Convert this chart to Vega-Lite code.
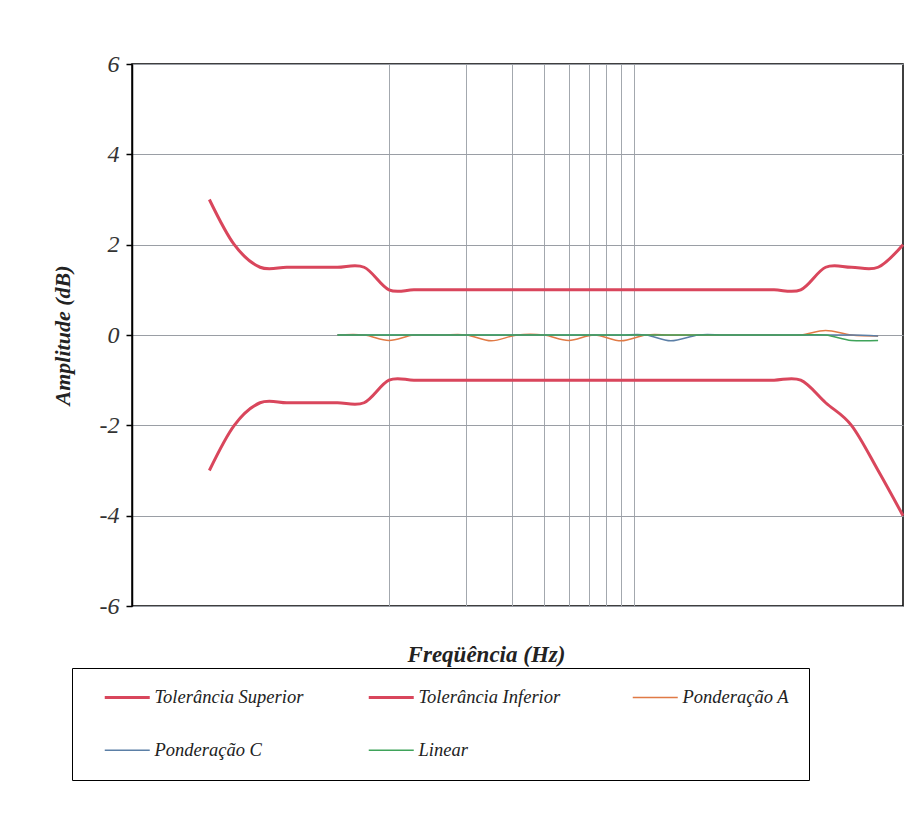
{
  "$schema": "https://vega.github.io/schema/vega-lite/v6.json",
  "width": 771,
  "height": 542,
  "autosize": {"type": "none"},
  "padding": {"left": 132, "top": 64, "right": 19, "bottom": 208},
  "background": "white",
  "config": {
    "view": {"stroke": "black", "strokeWidth": 1.5},
    "font": "Liberation Serif"
  },
  "data": {
    "values": [
      {"f": 20, "sup": 3, "inf": -3},
      {"f": 25, "sup": 2, "inf": -2},
      {"f": 31.5, "sup": 1.5, "inf": -1.5},
      {"f": 40, "sup": 1.5, "inf": -1.5},
      {"f": 50, "sup": 1.5, "inf": -1.5},
      {"f": 63, "sup": 1.5, "inf": -1.5, "pa": 0, "pc": 0, "lin": 0},
      {"f": 80, "sup": 1.5, "inf": -1.5, "pa": 0, "pc": 0, "lin": 0},
      {"f": 100, "sup": 1, "inf": -1, "pa": -0.12, "pc": 0, "lin": 0},
      {"f": 125, "sup": 1, "inf": -1, "pa": 0, "pc": 0, "lin": 0},
      {"f": 160, "sup": 1, "inf": -1, "pa": 0, "pc": 0, "lin": 0},
      {"f": 200, "sup": 1, "inf": -1, "pa": 0, "pc": 0, "lin": 0},
      {"f": 250, "sup": 1, "inf": -1, "pa": -0.13, "pc": 0, "lin": 0},
      {"f": 315, "sup": 1, "inf": -1, "pa": 0, "pc": 0, "lin": 0},
      {"f": 400, "sup": 1, "inf": -1, "pa": 0, "pc": 0, "lin": 0},
      {"f": 500, "sup": 1, "inf": -1, "pa": -0.12, "pc": 0, "lin": 0},
      {"f": 630, "sup": 1, "inf": -1, "pa": 0, "pc": 0, "lin": 0},
      {"f": 800, "sup": 1, "inf": -1, "pa": -0.13, "pc": 0, "lin": 0},
      {"f": 1000, "sup": 1, "inf": -1, "pa": 0, "pc": 0, "lin": 0},
      {"f": 1250, "sup": 1, "inf": -1, "pa": 0, "pc": -0.13, "lin": 0},
      {"f": 1600, "sup": 1, "inf": -1, "pa": 0, "pc": 0, "lin": 0},
      {"f": 2000, "sup": 1, "inf": -1, "pa": 0, "pc": 0, "lin": 0},
      {"f": 2500, "sup": 1, "inf": -1, "pa": 0, "pc": 0, "lin": 0},
      {"f": 3150, "sup": 1, "inf": -1, "pa": 0, "pc": 0, "lin": 0},
      {"f": 4000, "sup": 1, "inf": -1, "pa": 0, "pc": 0, "lin": 0},
      {"f": 5000, "sup": 1.5, "inf": -1.5, "pa": 0.1, "pc": 0, "lin": 0},
      {"f": 6300, "sup": 1.5, "inf": -2, "pa": 0, "pc": 0, "lin": -0.12},
      {"f": 8000, "sup": 1.5, "inf": -3, "pa": -0.02, "pc": -0.02, "lin": -0.12},
      {"f": 10000, "sup": 2, "inf": -4}
    ]
  },
  "transform": [
    {"fold": ["sup", "inf", "pa", "pc", "lin"], "as": ["key", "v"]},
    {"filter": "isValid(datum.v)"},
    {"lookup": "key", "from": {"data": {"values": [
      {"key": "sup", "series": "Tolerância Superior", "tol": 1},
      {"key": "inf", "series": "Tolerância Inferior", "tol": 1},
      {"key": "pa", "series": "Ponderação A", "tol": 0},
      {"key": "pc", "series": "Ponderação C", "tol": 0},
      {"key": "lin", "series": "Linear", "tol": 0}
    ]}, "key": "key", "fields": ["series", "tol"]}}
  ],
  "encoding": {
    "x": {
      "field": "f", "type": "quantitative",
      "scale": {"type": "log", "domain": [10, 10000], "nice": false},
      "axis": {
        "values": [100, 200, 300, 400, 500, 600, 700, 800, 900],
        "labels": false, "ticks": false, "domain": false,
        "grid": true, "gridColor": "#a3a8ae", "gridWidth": 1,
        "title": "Freqüência (Hz)",
        "titleFont": "Liberation Serif", "titleFontSize": 23, "titleFontStyle": "italic", "titleFontWeight": "bold", "titleColor": "#222",
        "titlePadding": 36, "titleX": 354, "titleY": 37
      }
    },
    "y": {
      "field": "v", "type": "quantitative",
      "scale": {"domain": [-6, 6], "nice": false},
      "axis": {
        "values": [-6, -4, -2, 0, 2, 4, 6],
        "labelExpr": "'' + datum.value",
        "grid": true, "gridColor": "#9a9ea5", "gridWidth": 1,
        "domainColor": "black", "domainWidth": 1.5,
        "tickColor": "black", "tickSize": 6, "tickWidth": 1.5,
        "labelFont": "Liberation Serif", "labelFontSize": 24, "labelFontStyle": "italic", "labelColor": "#333",
        "labelPadding": 7, "labelFlush": false, "labelOverlap": false,
        "title": "Amplitude (dB)",
        "titleFont": "Liberation Serif", "titleFontSize": 22, "titleFontStyle": "italic", "titleFontWeight": "bold", "titleColor": "#222",
        "titlePadding": 25
      }
    },
    "color": {
      "field": "series", "type": "nominal",
      "scale": {
        "domain": ["Tolerância Superior", "Tolerância Inferior", "Ponderação A", "Ponderação C", "Linear"],
        "range": ["#d9465c", "#d9465c", "#e07a45", "#5b7fa6", "#3fa35a"]
      },
      "legend": {
        "orient": "none", "legendX": -60, "legendY": 604,
        "direction": "horizontal",
        "title": null, "columns": 3, "gridAlign": "all",
        "columnPadding": 52, "rowPadding": 34,
        "symbolType": "stroke", "symbolSize": 2025, "symbolStrokeWidth": 2,
        "symbolOffset": 26,
        "labelFont": "Liberation Serif", "labelFontSize": 18.5, "labelFontStyle": "italic", "labelColor": "#222",
        "labelOffset": 18, "labelLimit": 300,
        "padding": 20, "strokeColor": "black",
        "encode": {
          "symbols": {"update": {"strokeWidth": {"signal": "datum.index < 2 ? 3 : 1.5"}}}
        }
      }
    }
  },
  "layer": [
    {
      "transform": [{"filter": "datum.tol == 1"}],
      "mark": {"type": "line", "interpolate": "cardinal", "strokeWidth": 3}
    },
    {
      "transform": [{"filter": "datum.tol == 0"}],
      "mark": {"type": "line", "interpolate": "cardinal", "strokeWidth": 1.5}
    }
  ]
}
